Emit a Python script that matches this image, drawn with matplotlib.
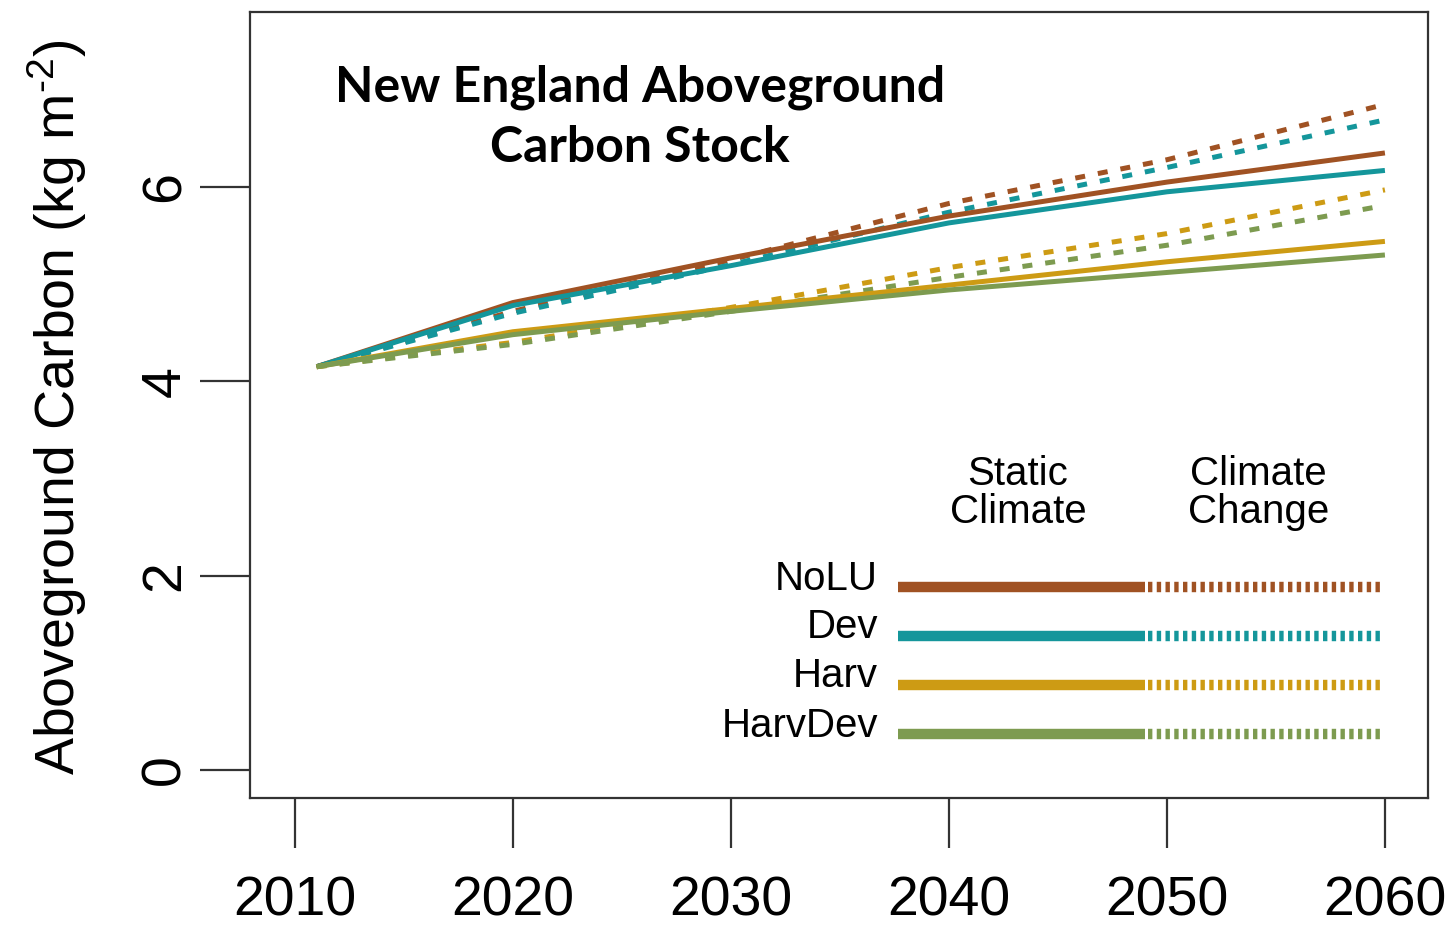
import matplotlib
matplotlib.use("Agg")
import matplotlib.pyplot as plt

# Simulation years and aboveground carbon stock (kg m^-2) per land-use scenario
years = [2011, 2020, 2030, 2040, 2050, 2060]

scenarios = ["NoLU", "Dev", "Harv", "HarvDev"]
colors = ["#A05223", "#14969B", "#CD9B14", "#7D9B50"]

# Static climate runs
nolu_static = [4.15, 4.81, 5.27, 5.70, 6.05, 6.35]
dev_static = [4.15, 4.78, 5.19, 5.63, 5.95, 6.17]
harv_static = [4.15, 4.51, 4.75, 4.99, 5.23, 5.44]
harvdev_static = [4.15, 4.48, 4.72, 4.94, 5.12, 5.30]

# Climate change runs
nolu_cc = [4.15, 4.72, 5.25, 5.83, 6.28, 6.85]
dev_cc = [4.15, 4.70, 5.20, 5.74, 6.20, 6.69]
harv_cc = [4.15, 4.40, 4.76, 5.17, 5.52, 5.97]
harvdev_cc = [4.15, 4.38, 4.72, 5.07, 5.40, 5.81]

static_runs = [nolu_static, dev_static, harv_static, harvdev_static]
cc_runs = [nolu_cc, dev_cc, harv_cc, harvdev_cc]

xticks = [2010, 2020, 2030, 2040, 2050, 2060]
yticks = [0, 2, 4, 6]

plt.rcParams["font.family"] = ["Liberation Sans", "DejaVu Sans"]
plt.rcParams["mathtext.fontset"] = "custom"
plt.rcParams["mathtext.rm"] = "Liberation Sans"
plt.rcParams["mathtext.it"] = "Liberation Sans:italic"
plt.rcParams["mathtext.bf"] = "Liberation Sans:bold"

fig = plt.figure(figsize=(14.53, 9.33), dpi=100)
ax = fig.add_axes([0.172, 0.1447, 0.8107, 0.8424])

lw = 3.6
for col, cc in zip(colors, cc_runs):
    ax.plot(years, cc, color=col, lw=lw, dashes=(2.0, 2.6), dash_capstyle="butt")
for col, sc in zip(colors, static_runs):
    ax.plot(years, sc, color=col, lw=lw, solid_capstyle="butt")

ax.set_xlim(2007.94, 2061.97)
ax.set_ylim(-0.288, 7.80)
ax.set_xticks(xticks)
ax.set_yticks(yticks)
ax.set_xticklabels([str(t) for t in xticks])
ax.set_yticklabels([str(t) for t in yticks])

for s in ax.spines.values():
    s.set_linewidth(1.6)
    s.set_color("#333333")
ax.tick_params(axis="both", length=36, width=1.6, color="#333333", labelsize=40)
ax.tick_params(axis="x", pad=20)
ax.tick_params(axis="y", pad=6, labelrotation=90)
for lab in ax.get_yticklabels():
    lab.set_va("center")

ax.text(-0.164, 0.497, "Aboveground Carbon (kg m$^{\u2010\\mathrm{2}}$)", transform=ax.transAxes,
        rotation=90, ha="center", va="center", fontsize=40)

# Title
ax.text(0.331, 0.866, "New England Aboveground\nCarbon Stock", transform=ax.transAxes,
        ha="center", va="center", fontsize=36, fontweight="bold",
        family=["Lato", "DejaVu Sans"], linespacing=1.42)

# Hand-built legend: solid segment = static climate, dashed = climate change
ax.text(0.652, 0.388, "Static\nClimate", transform=ax.transAxes, ha="center",
        va="center", fontsize=29, linespacing=1.0)
ax.text(0.856, 0.388, "Climate\nChange", transform=ax.transAxes, ha="center",
        va="center", fontsize=29, linespacing=1.0)
leg_y = [0.268, 0.206, 0.144, 0.081]
for name, col, yy in zip(scenarios, colors, leg_y):
    ax.plot([0.550, 0.760], [yy, yy], transform=ax.transAxes, color=col, lw=7.5,
            solid_capstyle="butt")
    ax.plot([0.762, 0.962], [yy, yy], transform=ax.transAxes, color=col, lw=7.5,
            dashes=(0.42, 0.42), dash_capstyle="butt")
    ax.text(0.533, yy + 0.011, name, transform=ax.transAxes, ha="right", va="center",
            fontsize=29)

fig.savefig("out.png", dpi=100)
